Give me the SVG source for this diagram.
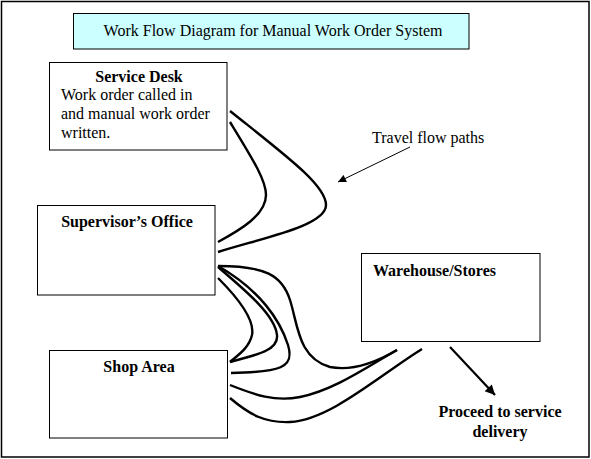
<svg xmlns="http://www.w3.org/2000/svg" width="591" height="459" viewBox="0 0 591 459">
<defs>
<style>
.box{fill:#fff;stroke:#000;stroke-width:1}
.t{font-family:"Liberation Serif","Times New Roman",serif;font-size:16px;fill:#000}
.b{font-weight:bold}
.flow{fill:none;stroke:#000;stroke-width:2.4;stroke-linecap:butt}
</style>
<marker id="ah" viewBox="0 0 10 10" refX="10" refY="5" markerWidth="10" markerHeight="8" markerUnits="userSpaceOnUse" orient="auto">
<path d="M0,0 L10,5 L0,10 z" fill="#000"/>
</marker>
<marker id="ah2" viewBox="0 0 10 10" refX="10" refY="5" markerWidth="5" markerHeight="4.5" orient="auto">
<path d="M0,0 L10,5 L0,10 z" fill="#000"/>
</marker>
</defs>
<rect x="0" y="0" width="591" height="459" fill="#fff"/>
<rect x="1.5" y="1.5" width="587.5" height="455.5" fill="none" stroke="#000" stroke-width="1.5"/>

<g id="title">
<rect x="73.5" y="13.5" width="395.5" height="35.5" fill="#ccffff" stroke="#000" stroke-width="1"/>
<text class="t" x="273" y="36" text-anchor="middle" font-size="17">Work Flow Diagram for Manual Work Order System</text>
</g>

<g id="service-desk">
<rect class="box" x="49.5" y="62.5" width="177.5" height="87.5"/>
<text class="t b" x="139" y="82" text-anchor="middle">Service Desk</text>
<text class="t" x="61" y="100">Work order called in</text>
<text class="t" x="61" y="119">and manual work order</text>
<text class="t" x="61" y="138">written.</text>
</g>

<g id="supervisors-office">
<rect class="box" x="37.5" y="205.5" width="177.5" height="89.5"/>
<text class="t b" x="127" y="227" text-anchor="middle">Supervisor’s Office</text>
</g>

<g id="shop-area">
<rect class="box" x="49.5" y="350.5" width="178" height="87.5"/>
<text class="t b" x="139" y="372" text-anchor="middle">Shop Area</text>
</g>

<g id="warehouse">
<rect class="box" x="361.5" y="253.5" width="178.5" height="88"/>
<text class="t b" x="373" y="276">Warehouse/Stores</text>
</g>

<g id="label-travel">
<text class="t" x="372" y="143">Travel flow paths</text>
</g>

<g id="label-proceed">
<text class="t b" x="500" y="417" text-anchor="middle">Proceed to service</text>
<text class="t b" x="500" y="437" text-anchor="middle">delivery</text>
</g>

<g id="connectors">
<path class="flow" d="M230,111 C285,155 326,185 326,205 C326,226 262,238 218,252"/>
<path class="flow" d="M230,122 C252,158 266,180 266,195 C266,215 240,230 218,242"/>
<path class="flow" d="M218,266 C265,266 282,275 290,300 C298,325 298,358 330,367 C355,372 380,360 397,350"/>
<path class="flow" d="M218,266 C260,290 280,320 288,345 C295,368 280,372 231,373"/>
<path class="flow" d="M218,267 C245,290 275,315 277,335 C279,352 250,356 230,362"/>
<path class="flow" d="M218,278 C240,300 255,320 252,335 C249,348 238,355 230,362"/>
<path class="flow" d="M230,385 C255,395 275,402 300,397 C335,390 370,365 397,350"/>
<path class="flow" d="M230,398 C250,415 265,423 290,422 C330,420 380,375 422,349"/>
<line x1="410" y1="147" x2="338" y2="182" stroke="#000" stroke-width="1" marker-end="url(#ah)"/>
<line x1="450" y1="347" x2="495" y2="395" stroke="#000" stroke-width="2.2" marker-end="url(#ah2)"/>
</g>
</svg>
